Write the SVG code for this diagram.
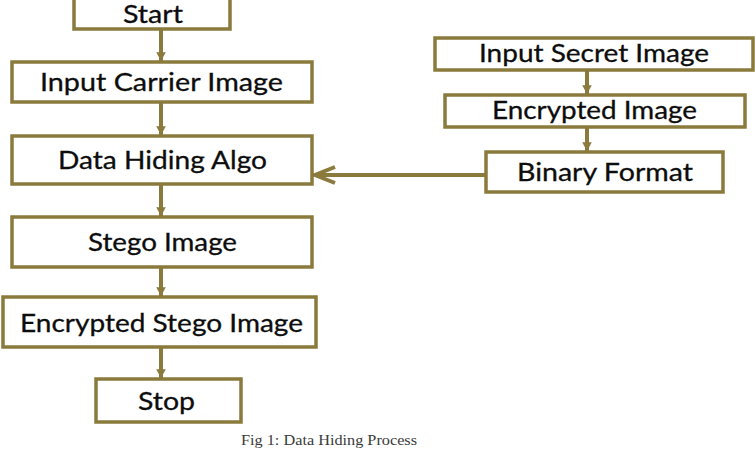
<svg xmlns="http://www.w3.org/2000/svg" width="755" height="462" viewBox="0 0 755 462">
<style>
.box{fill:#fff;stroke:#8a7a3c;stroke-width:3.5}
.t{font-family:Lato,"Open Sans",sans-serif;font-size:25px;fill:#0d0d0d;text-anchor:middle;stroke:#0d0d0d;stroke-width:0.3}
.c{stroke:#8a7a3c;stroke-width:4;fill:none}
.cap{font-family:"Liberation Serif",serif;font-size:14.5px;fill:#3a3a3a;text-anchor:middle}
</style>
<defs>
<marker id="ah" markerWidth="3" markerHeight="3" refX="2.2" refY="1.5" orient="auto" markerUnits="strokeWidth">
<path d="M0,0.3 L2.2,1.5 L0,2.7 Z" fill="#8a7a3c"/>
</marker>
</defs>
<rect width="755" height="462" fill="#fff"/>
<g id="connectors">
<line class="c" x1="161" y1="29" x2="161" y2="61" marker-end="url(#ah)"/>
<line class="c" x1="161" y1="102" x2="161" y2="135" marker-end="url(#ah)"/>
<line class="c" x1="161" y1="184" x2="161" y2="216" marker-end="url(#ah)"/>
<line class="c" x1="161" y1="267" x2="161" y2="296" marker-end="url(#ah)"/>
<line class="c" x1="161" y1="347" x2="161" y2="378" marker-end="url(#ah)"/>
<line class="c" x1="587" y1="70" x2="587" y2="94" marker-end="url(#ah)"/>
<line class="c" x1="587" y1="127" x2="587" y2="151" marker-end="url(#ah)"/>
<line class="c" x1="486" y1="175" x2="315" y2="175"/>
<polyline class="c" points="335,167 315,175 335,183"/>
</g>
<g id="start"><rect class="box" x="74" y="-4" width="156" height="33"/><text class="t" x="153" y="23" font-size="22" textLength="60" lengthAdjust="spacingAndGlyphs">Start</text></g>
<g id="input-carrier"><rect class="box" x="12" y="62" width="300" height="40"/><text class="t" x="161.5" y="91" textLength="243" lengthAdjust="spacingAndGlyphs">Input Carrier Image</text></g>
<g id="data-hiding"><rect class="box" x="12" y="136" width="300" height="48"/><text class="t" x="162.5" y="169" textLength="209" lengthAdjust="spacingAndGlyphs">Data Hiding Algo</text></g>
<g id="stego"><rect class="box" x="12" y="217" width="300" height="50"/><text class="t" x="162.5" y="251" textLength="149" lengthAdjust="spacingAndGlyphs">Stego Image</text></g>
<g id="enc-stego"><rect class="box" x="3" y="297" width="313" height="50"/><text class="t" x="161.5" y="332" textLength="283" lengthAdjust="spacingAndGlyphs">Encrypted Stego Image</text></g>
<g id="stop"><rect class="box" x="96" y="379" width="145" height="43"/><text class="t" x="166.5" y="410" textLength="57" lengthAdjust="spacingAndGlyphs">Stop</text></g>
<g id="input-secret"><rect class="box" x="435" y="38" width="318" height="32"/><text class="t" x="594" y="62" textLength="230" lengthAdjust="spacingAndGlyphs">Input Secret Image</text></g>
<g id="encrypted"><rect class="box" x="445" y="95" width="300" height="32"/><text class="t" x="594.5" y="119" textLength="205" lengthAdjust="spacingAndGlyphs">Encrypted Image</text></g>
<g id="binary"><rect class="box" x="486" y="152" width="237" height="40"/><text class="t" x="605" y="181" textLength="176" lengthAdjust="spacingAndGlyphs">Binary Format</text></g>
<text class="cap" x="329" y="445" textLength="176" lengthAdjust="spacingAndGlyphs">Fig 1:  Data Hiding Process</text>
</svg>
